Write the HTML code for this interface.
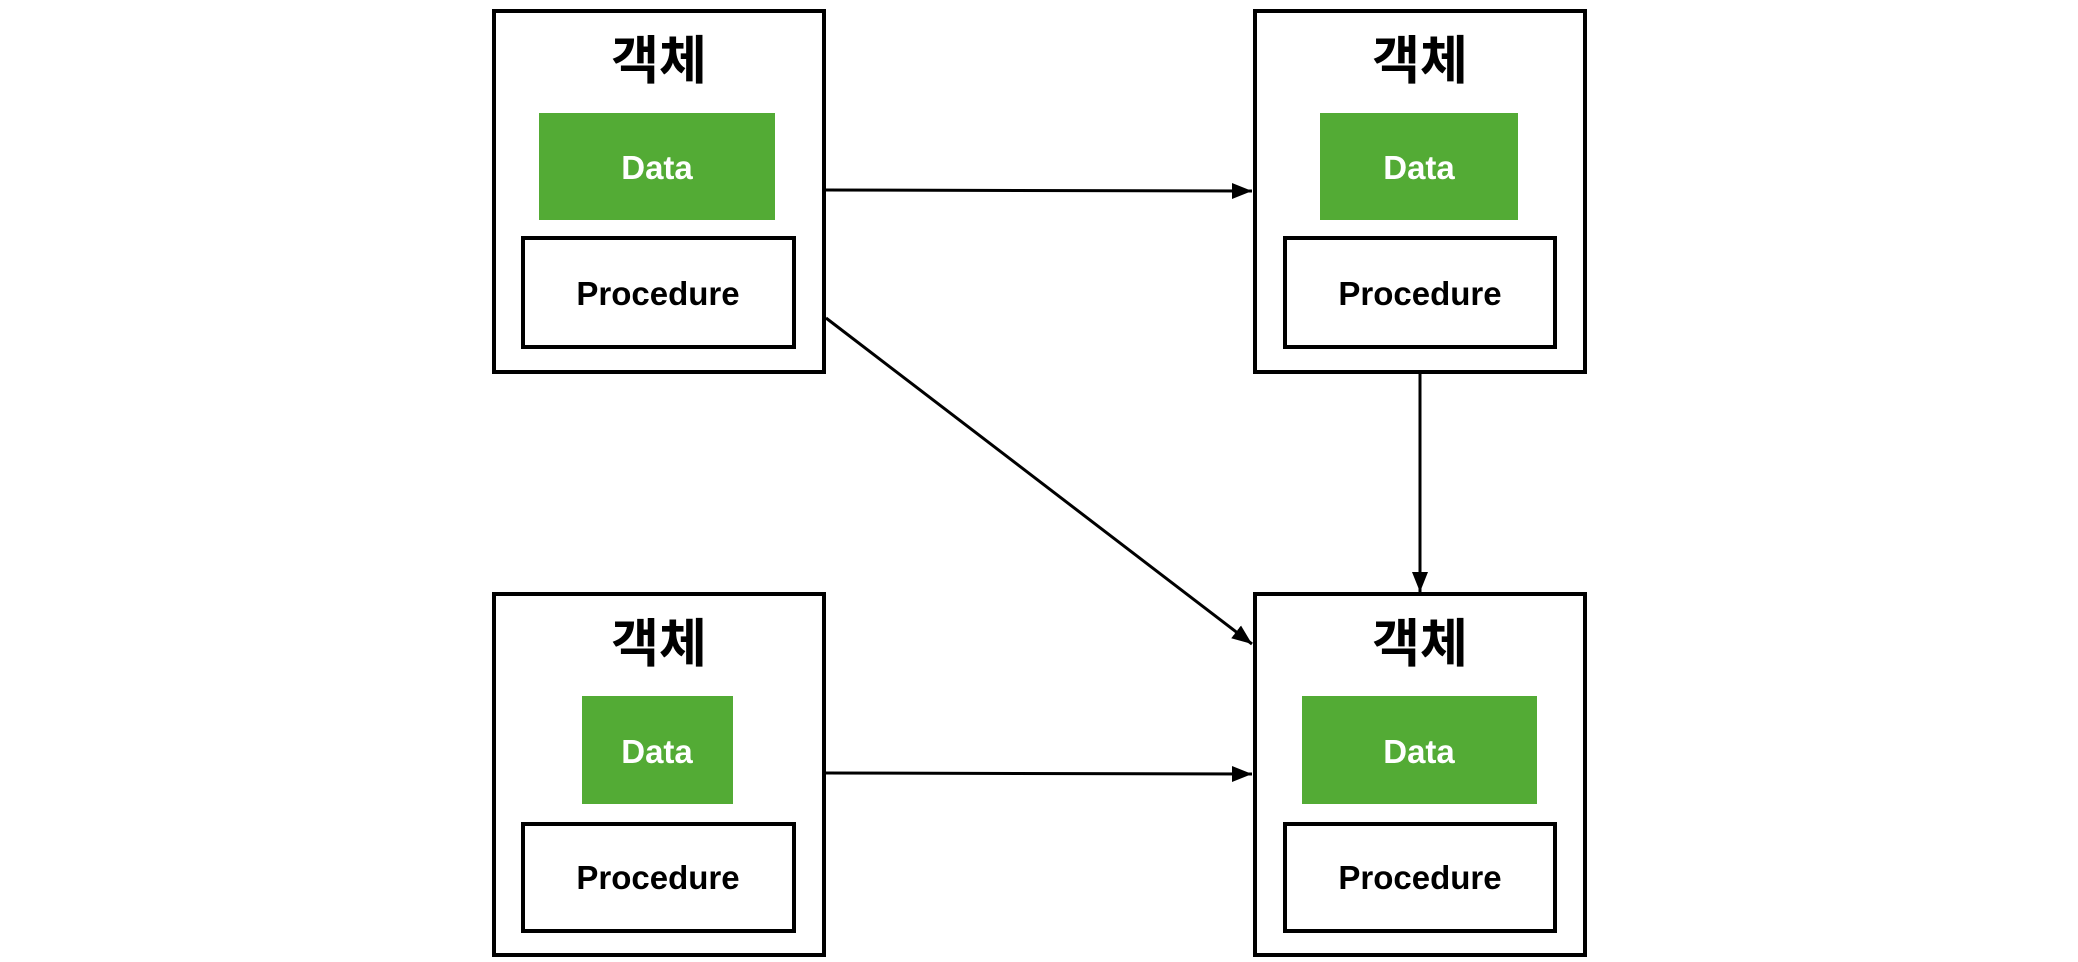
<!DOCTYPE html>
<html><head><meta charset="utf-8"><style>
html,body{margin:0;padding:0;background:#fff;width:2078px;height:962px;overflow:hidden}
svg text{font-family:"Liberation Sans","Noto Sans CJK KR",sans-serif;font-weight:bold}
</style></head><body>
<svg width="2078" height="962" viewBox="0 0 2078 962" xmlns="http://www.w3.org/2000/svg">
<defs>
<marker id="b" markerWidth="20" markerHeight="20" refX="20" refY="10" orient="auto" markerUnits="userSpaceOnUse"><path d="M0,2 L20,10 L0,18 z" fill="#000"/></marker></defs>
<g fill="none" stroke="#000" stroke-width="4">
<rect x="494" y="11" width="330" height="361"/>
<rect x="1255" y="11" width="330" height="361"/>
<rect x="494" y="594" width="330" height="361"/>
<rect x="1255" y="594" width="330" height="361"/>
<rect x="523" y="238" width="271" height="109"/>
<rect x="1285" y="238" width="270" height="109"/>
<rect x="523" y="824" width="271" height="107"/>
<rect x="1285" y="824" width="270" height="107"/>
</g>
<g fill="#53ab35">
<rect x="539" y="113" width="236" height="107"/>
<rect x="1320" y="113" width="198" height="107"/>
<rect x="582" y="696" width="151" height="108"/>
<rect x="1302" y="696" width="235" height="108"/>
</g>
<g stroke="#000" stroke-width="3">
<line x1="826" y1="190" x2="1252" y2="191" marker-end="url(#b)"/>
<line x1="826" y1="318" x2="1252" y2="644" marker-end="url(#b)"/>
<line x1="1420" y1="374" x2="1420" y2="592" marker-end="url(#b)"/>
<line x1="826" y1="773" x2="1252" y2="774" marker-end="url(#b)"/>
</g>
<g text-anchor="middle" font-size="52">
<text x="659" y="79">객체</text>
<text x="1420" y="79">객체</text>
<text x="659" y="662">객체</text>
<text x="1420" y="662">객체</text>
</g>
<g text-anchor="middle" font-size="33" fill="#fff">
<text x="657" y="179">Data</text>
<text x="1419" y="179">Data</text>
<text x="657" y="763">Data</text>
<text x="1419" y="763">Data</text>
</g>
<g text-anchor="middle" font-size="33" fill="#000">
<text x="658" y="305">Procedure</text>
<text x="1420" y="305">Procedure</text>
<text x="658" y="889">Procedure</text>
<text x="1420" y="889">Procedure</text>
</g>
</svg>
</body></html>
